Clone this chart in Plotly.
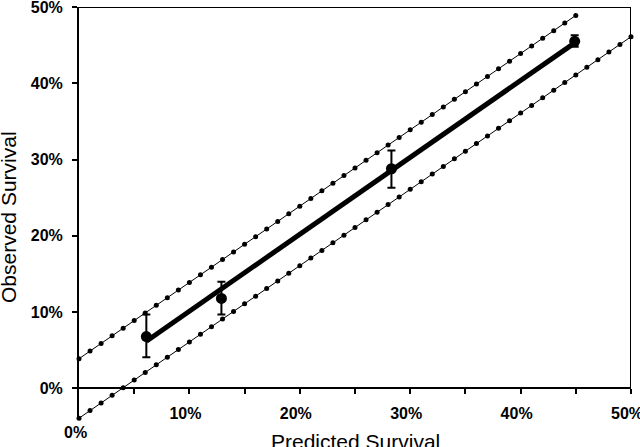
import plotly.graph_objects as go

# Data (percent)
pred = [6.1, 12.9, 28.3, 44.9]
obs = [6.8, 11.8, 28.8, 45.5]
obs_hi = [9.7, 14.0, 31.2, 46.3]
obs_lo = [4.1, 9.7, 26.3, 44.8]

fit_x = [6.1, 44.9]
fit_y = [6.2, 45.3]

upper_x = [0, 1, 2, 3, 4, 5, 6, 7, 8, 9, 10, 11, 12, 13, 14, 15, 16, 17, 18, 19, 20,
           21, 22, 23, 24, 25, 26, 27, 28, 29, 30, 31, 32, 33, 34, 35, 36, 37, 38, 39, 40,
           41, 42, 43, 44, 45]
upper_y = [3.9, 4.9, 5.9, 6.9, 7.9, 8.9, 9.9, 10.9, 11.9, 12.9, 13.9, 14.9, 15.9, 16.9,
           17.9, 18.9, 19.9, 20.9, 21.9, 22.9, 23.9, 24.9, 25.9, 26.9, 27.9, 28.9, 29.9,
           30.9, 31.9, 32.9, 33.9, 34.9, 35.9, 36.9, 37.9, 38.9, 39.9, 40.9, 41.9, 42.9,
           43.9, 44.9, 45.9, 46.9, 47.9, 48.9]
lower_x = [0, 1, 2, 3, 4, 5, 6, 7, 8, 9, 10, 11, 12, 13, 14, 15, 16, 17, 18, 19, 20,
           21, 22, 23, 24, 25, 26, 27, 28, 29, 30, 31, 32, 33, 34, 35, 36, 37, 38, 39, 40,
           41, 42, 43, 44, 45, 46, 47, 48, 49, 50]
lower_y = [-3.9, -2.9, -1.9, -0.9, 0.1, 1.1, 2.1, 3.1, 4.1, 5.1, 6.1, 7.1, 8.1, 9.1,
           10.1, 11.1, 12.1, 13.1, 14.1, 15.1, 16.1, 17.1, 18.1, 19.1, 20.1, 21.1, 22.1,
           23.1, 24.1, 25.1, 26.1, 27.1, 28.1, 29.1, 30.1, 31.1, 32.1, 33.1, 34.1, 35.1,
           36.1, 37.1, 38.1, 39.1, 40.1, 41.1, 42.1, 43.1, 44.1, 45.1, 46.1]

x_tickvals = [5, 10, 15, 20, 25, 30, 35, 40, 45, 50]
x_ticktext = ["", "10%", "", "20%", "", "30%", "", "40%", "", "50%"]
y_tickvals = [0, 10, 20, 30, 40, 50]
y_ticktext = ["0%", "10%", "20%", "30%", "40%", "50%"]

FONT = "Liberation Sans, Arial, sans-serif"
tickfont = dict(family=FONT, size=16, color="black", weight="bold")

fig = go.Figure()

for xs, ys in [(upper_x, upper_y), (lower_x, lower_y)]:
    fig.add_trace(go.Scatter(
        x=xs, y=ys, mode="lines+markers",
        line=dict(color="black", width=1),
        marker=dict(color="black", size=5),
        cliponaxis=False, showlegend=False, hoverinfo="skip"))

fig.add_trace(go.Scatter(
    x=fit_x, y=fit_y, mode="lines",
    line=dict(color="black", width=5),
    showlegend=False, hoverinfo="skip"))

fig.add_trace(go.Scatter(
    x=pred, y=obs, mode="markers",
    marker=dict(color="black", size=11),
    error_y=dict(type="data", symmetric=False,
                 array=[h - o for h, o in zip(obs_hi, obs)],
                 arrayminus=[o - l for o, l in zip(obs, obs_lo)],
                 color="black", thickness=2, width=4),
    cliponaxis=False, showlegend=False))

# frame (top and right)
fig.add_shape(type="line", xref="x", yref="y", x0=0, x1=50, y0=50, y1=50,
              line=dict(color="black", width=2))
fig.add_shape(type="line", xref="x", yref="y", x0=50, x1=50, y0=0, y1=50,
              line=dict(color="black", width=2))

fig.update_layout(
    width=640, height=447,
    margin=dict(l=79, r=9, t=7, b=28),
    paper_bgcolor="white", plot_bgcolor="white",
    xaxis=dict(range=[0, 50], anchor="free", position=4 / 54, automargin=False,
               tickvals=x_tickvals, ticktext=x_ticktext,
               ticks="outside", ticklen=5, tickwidth=2, tickcolor="black",
               showline=True, linecolor="black", linewidth=2,
               showgrid=False, zeroline=False, tickfont=tickfont,
               ticklabelstandoff=5, ticklabelshift=-4, ticklabeloverflow="allow"),
    yaxis=dict(range=[-4, 50], tickvals=y_tickvals, ticktext=y_ticktext,
               automargin=False,
               ticks="outside", ticklen=5, tickwidth=2, tickcolor="black",
               showline=True, linecolor="black", linewidth=2,
               showgrid=False, zeroline=False, tickfont=tickfont,
               ticklabelstandoff=6, ticklabeloverflow="allow"),
    annotations=[
        dict(text="0%", x=0, y=0, xref="x", yref="paper", xanchor="center",
             yanchor="top", xshift=-4, yshift=-3, showarrow=False, font=tickfont),
        dict(text="Predicted Survival", x=0.5, y=0, xref="paper", yref="paper",
             xanchor="center", yanchor="top", yshift=-9, showarrow=False,
             font=dict(family=FONT, size=21, color="black")),
        dict(text="Observed Survival", x=0, y=0.5, xref="paper", yref="paper",
             xanchor="center", yanchor="middle", xshift=-71, yshift=-4,
             textangle=-90, showarrow=False,
             font=dict(family=FONT, size=21, color="black")),
    ],
)

fig.write_html("out.html", config={"displayModeBar": False},
               post_script="document.body.style.margin='0px';document.body.style.padding='0px';")
